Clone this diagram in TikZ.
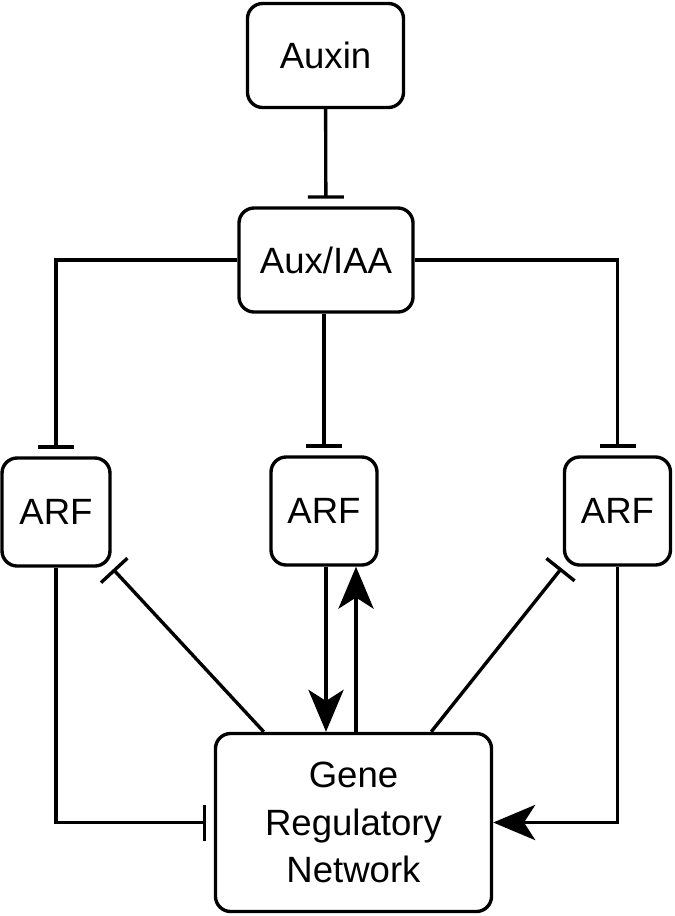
\documentclass[tikz,border=0pt]{standalone}
\usepackage{fontspec}
\setmainfont{Liberation Sans}
\usetikzlibrary{arrows.meta,calc}
\begin{document}
\begin{tikzpicture}[x=0.025cm,y=-0.025cm,line width=2.4pt,
  box/.style={draw,rounded corners=0.38cm,align=center,font=\fontsize{26}{34}\selectfont,inner sep=0pt},
  inh/.style={-{Bar[width=0.9cm]},shorten >=0.19cm},
  act/.style={-{Stealth[length=1.05cm,width=0.88cm,inset=0.28cm]}}]
\useasboundingbox (0,0) rectangle (675,916);
\node[box,minimum width=3.9cm,minimum height=2.6cm] (auxin) at (325.5,55.5){Auxin};
\node[box,minimum width=4.35cm,minimum height=2.6cm] (auxiaa) at (326,260){Aux/IAA};
\node[box,minimum width=2.7cm,minimum height=2.7cm] (arfL) at (56,512){ARF};
\node[box,minimum width=2.65cm,minimum height=2.7cm] (arfM) at (324,511){ARF};
\node[box,minimum width=2.65cm,minimum height=2.7cm] (arfR) at (617.5,511){ARF};
\node[box,minimum width=6.9cm,minimum height=4.45cm] (grn) at (353.5,822.5){Gene\\Regulatory\\Network};
\draw[inh] (auxin) -- (auxiaa);
\draw[inh] (auxiaa.west) -| (arfL.north);
\draw[inh] (auxiaa.east) -| (arfR.north);
\draw[inh] (auxiaa.south -| arfM.north) -- (arfM.north);
\draw[inh] (arfL.south) |- (grn.west);
\draw[act] (arfR.south) |- (grn.east);
\draw[act] ([xshift=0.05cm]arfM.south) -- ([xshift=0.05cm]arfM.south |- grn.north);
\draw[act] ([xshift=0.8cm]arfM.south |- grn.north) -- ([xshift=0.8cm]arfM.south);
\draw[inh,shorten >=0.05cm] ([xshift=1.25cm]grn.north west) -- (arfL.south east);
\draw[inh,shorten >=0.05cm] ([xshift=-1.55cm]grn.north east) -- (arfR.south west);
\end{tikzpicture}
\end{document}
